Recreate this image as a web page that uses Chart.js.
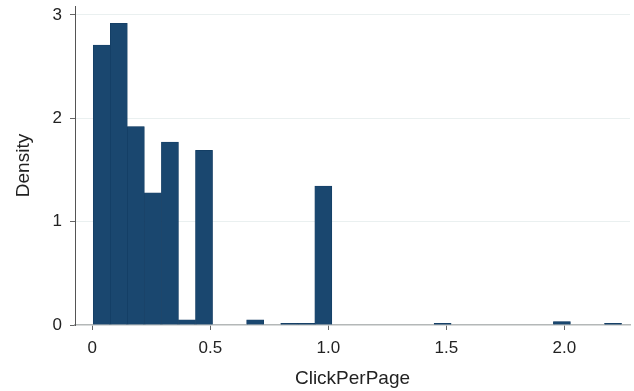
<!DOCTYPE html>
<html>
<head>
<meta charset="utf-8">
<script src="https://cdn.jsdelivr.net/npm/chart.js@4.4.1/dist/chart.umd.min.js"></script>
<style>
  html, body { margin: 0; padding: 0; background: #ffffff; }
  #wrap { width: 634px; height: 391px; }
</style>
</head>
<body>
<div id="wrap"><canvas id="hist" width="634" height="391"></canvas></div>
<script>
// Histogram of ClickPerPage: 31 equal-width bins
const binStart = 0.004;
const binWidth = 0.0722;
const densities = [
  2.71, 2.92, 1.92, 1.28, 1.77, 0.051, 1.69, 0, 0, 0.051,
  0, 0.017, 0.017, 1.345, 0, 0, 0, 0, 0, 0,
  0.017, 0, 0, 0, 0, 0, 0, 0.034, 0, 0,
  0.017
];
const xTickValues = [0, 0.5, 1.0, 1.5, 2.0];
const xTickLabels = ['0', '0.5', '1.0', '1.5', '2.0'];
const yTickValues = [0, 1, 2, 3];
const yTickLabels = ['0', '1', '2', '3'];

const points = densities.map((d, i) => ({ x: binStart + (i + 0.5) * binWidth, y: d }));

const FONT = 'Liberation Sans, Arial, Helvetica, sans-serif';

new Chart(document.getElementById('hist'), {
  type: 'bar',
  data: {
    datasets: [{
      data: points,
      backgroundColor: '#1a476f',
      borderColor: '#123b60',
      borderWidth: 0.6,
      barPercentage: 1,
      categoryPercentage: 1
    }]
  },
  options: {
    responsive: false,
    animation: false,
    devicePixelRatio: 1,
    layout: { padding: { top: 6, right: 4, left: 0, bottom: 0 } },
    plugins: { legend: { display: false }, tooltip: { enabled: false } },
    scales: {
      x: {
        type: 'linear',
        offset: false,
        min: -0.0733,
        max: 2.278,
        afterBuildTicks: s => { s.ticks = xTickValues.map(v => ({ value: v })); },
        afterFit: s => { s.height = 66; s.paddingLeft = 0; s.paddingRight = 0; },
        ticks: {
          callback: (v, i) => xTickLabels[i],
          font: { family: FONT, size: 17 },
          color: '#222',
          padding: 8,
          maxRotation: 0
        },
        grid: { offset: false, drawOnChartArea: false, tickLength: 5, tickColor: '#666' },
        border: { color: '#b4b8b8', width: 1.5 },
        title: {
          display: true,
          text: 'ClickPerPage',
          font: { family: FONT, size: 19 },
          color: '#222',
          padding: { top: 0, bottom: 1 }
        }
      },
      y: {
        min: 0,
        max: 3.087,
        afterBuildTicks: s => { s.ticks = yTickValues.map(v => ({ value: v })); },
        afterFit: s => { s.width = 75; s.paddingTop = 0; s.paddingBottom = 0; },
        ticks: {
          callback: (v, i) => yTickLabels[i],
          font: { family: FONT, size: 17 },
          color: '#222',
          padding: 8
        },
        grid: {
          color: ctx => (ctx.tick && ctx.tick.value === 0) ? 'rgba(0,0,0,0)' : '#eaf0f0',
          tickLength: 5,
          tickColor: '#666'
        },
        border: { color: '#555', width: 1 },
        title: {
          display: true,
          text: 'Density',
          font: { family: FONT, size: 19 },
          color: '#222',
          padding: { top: 12, bottom: 0 }
        }
      }
    }
  }
});
</script>
</body>
</html>
